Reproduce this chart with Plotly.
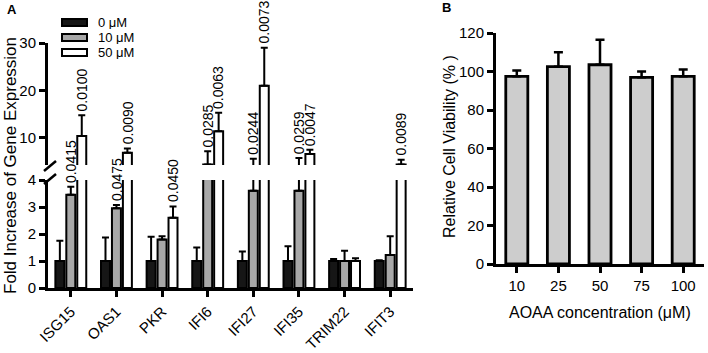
import plotly.graph_objects as go

# ---------------- data ----------------
genes = ["ISG15", "OAS1", "PKR", "IFI6", "IFI27", "IFI35", "TRIM22", "IFIT3"]
doses = ["0 μM", "10 μM", "50 μM"]
fold_0 = [1.0, 1.0, 1.0, 1.0, 1.0, 1.0, 1.0, 1.0]
err_0 = [0.75, 0.87, 0.9, 0.5, 0.35, 0.55, 0.07, 0.03]
fold_10 = [3.45, 2.95, 1.8, 4.4, 3.6, 3.6, 1.0, 1.22]
err_10 = [0.3, 0.12, 0.12, 2.8, 2.0, 2.2, 0.38, 0.7]
fold_50 = [10.4, 6.9, 2.6, 11.4, 21.0, 6.6, 1.0, 4.4]
err_50 = [4.4, 0.9, 0.42, 3.9, 8.0, 0.9, 0.1, 1.0]
pvals_10 = ["0.0415", "0.0475", None, "0.0285", "0.0244", "0.0259", None, None]
pvals_50 = ["0.0100", "0.0090", "0.0450", "0.0063", "0.0073", "0.0047", None, "0.0089"]

conc = ["10", "25", "50", "75", "100"]
viability = [97.5, 102.5, 103.5, 97.0, 97.5]
viability_err = [3.0, 7.5, 13.0, 3.0, 3.5]

# ---------------- style ----------------
FONT = "Liberation Sans, Arial, sans-serif"
W, H = 708, 353
fills = ["#161616", "#a8a8a8", "#ffffff"]
BARGAP = 0.28
LOWER_MAX = 4

def px_x(p):
    return p / W

def px_y(p):
    return 1 - p / H

fig = go.Figure()

series = [(fold_0, err_0), (fold_10, err_10), (fold_50, err_50)]
for yax in ["y", "y2"]:
    for k, (vals, errs) in enumerate(series):
        fig.add_trace(go.Bar(
            x=genes, y=vals, name=doses[k], xaxis="x", yaxis=yax,
            marker=dict(color=fills[k], line=dict(color="black", width=2)),
            error_y=dict(type="data", array=errs, arrayminus=[0] * len(errs),
                         symmetric=False, color="black", thickness=2, width=3.5),
            showlegend=False,
        ))

fig.add_trace(go.Bar(
    x=conc, y=viability, xaxis="x2", yaxis="y3", width=0.53,
    marker=dict(color="#cdcdcd", line=dict(color="black", width=2.8)),
    error_y=dict(type="data", array=viability_err, arrayminus=[0] * len(viability_err),
                 symmetric=False, color="black", thickness=2.5, width=4.5),
    showlegend=False,
))

axis_common = dict(showline=True, linecolor="black", linewidth=3, ticks="outside",
                   ticklen=6, tickwidth=3, tickcolor="black", showgrid=False,
                   zeroline=False, automargin=False,
                   tickfont=dict(family=FONT, size=15, color="black"))

fig.update_layout(
    template="none",
    width=W, height=H, autosize=False,
    margin=dict(l=0, r=0, t=0, b=0, pad=0),
    paper_bgcolor="white", plot_bgcolor="white",
    barmode="group", bargap=BARGAP, bargroupgap=0.18,
    font=dict(family=FONT, color="black"),
    xaxis=dict(domain=[px_x(48), px_x(413)], anchor="y", type="category",
               range=[-0.5, len(genes) - 0.5], tickangle=-45, **axis_common),
    yaxis=dict(domain=[px_y(288), px_y(180)], anchor="x", range=[0, LOWER_MAX],
               dtick=1, **axis_common),
    yaxis2=dict(domain=[px_y(165), px_y(43)], anchor="x", range=[4.3, 30],
                tickvals=[10, 20, 30], **axis_common),
    xaxis2=dict(domain=[px_x(496), px_x(704)], anchor="y3", type="category",
                range=[-0.5, len(conc) - 0.5], **axis_common),
    yaxis3=dict(domain=[px_y(264), px_y(33)], anchor="x2", range=[0, 120],
                dtick=20, **axis_common),
)

# p-value annotations
w_trace = (1 - BARGAP) / 3
ann = []
for k, (vals, errs, pv) in enumerate([(fold_10, err_10, pvals_10), (fold_50, err_50, pvals_50)], start=1):
    off = (k - 1) * w_trace
    for i, p in enumerate(pv):
        if p is None:
            continue
        top = vals[i] + errs[i]
        ann.append(dict(x=i + off, y=top, xref="x", yref="y" if top < LOWER_MAX else "y2",
                        text=p, textangle=-90, showarrow=False, xanchor="center",
                        yanchor="bottom", yshift=2,
                        font=dict(family=FONT, size=14, color="black")))

def paper_text(x, y, text, size, angle=0, anchor="center", bold=False, height=None):
    d = dict(x=px_x(x), y=px_y(y), xref="paper", yref="paper",
             text=f"<b>{text}</b>" if bold else text, textangle=angle,
             showarrow=False, xanchor=anchor, yanchor="middle",
             font=dict(family=FONT, size=size, color="black"))
    if height is not None:
        d["height"] = height
    return d

# titles and panel labels
ann += [
    paper_text(10, 166, "Fold Increase of Gene Expression", 17, angle=-90),
    paper_text(449, 147, "Relative Cell Viability (% )", 16, angle=-90),
    paper_text(600, 312, "AOAA concentration (μM)", 16),
    paper_text(12, 9, "A", 13, bold=True),
    paper_text(446, 8, "B", 13, bold=True),
]

# custom legend
shapes = []
leg_rows = [(19, 26), (34, 41), (49, 56)]
for k, (t, b) in enumerate(leg_rows):
    shapes.append(dict(type="rect", xref="paper", yref="paper", x0=px_x(62), x1=px_x(87),
                       y0=px_y(b), y1=px_y(t), fillcolor=fills[k],
                       line=dict(color="black", width=2)))
    ann.append(paper_text(96, (t + b) / 2, doses[k], 13, anchor="left", height=13))

# axis break marks
for yc in [166, 179]:
    shapes.append(dict(type="line", xref="paper", yref="paper", x0=px_x(44), x1=px_x(56),
                       y0=px_y(yc + 5), y1=px_y(yc - 5), line=dict(color="black", width=2.5)))

fig.update_layout(annotations=ann, shapes=shapes)
fig.write_html("out.html", config={"displayModeBar": False},
               post_script="document.body.style.margin='0px';")
